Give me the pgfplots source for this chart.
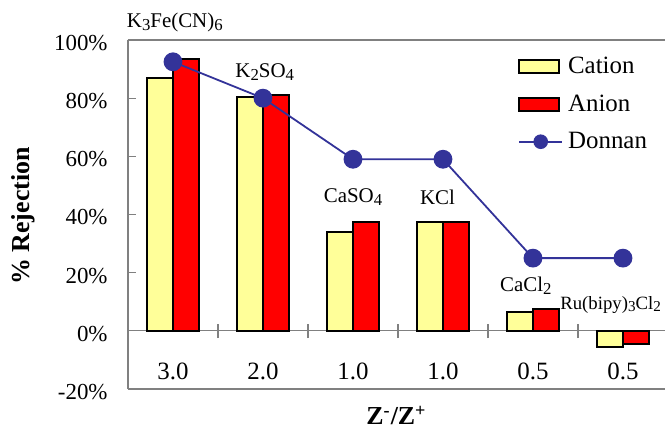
\documentclass[border=0pt]{standalone}
\usepackage{fontspec}
\setmainfont{Liberation Serif}
\usepackage{pgfplots}
\pgfplotsset{compat=1.18}
\definecolor{cat}{HTML}{FFFF99}
\definecolor{ani}{HTML}{FF0000}
\definecolor{don}{HTML}{333399}
\definecolor{axc}{HTML}{808080}
\newcommand{\sub}[1]{\raisebox{-0.3ex}{\fontsize{8.4}{9}\selectfont #1}}
\newcommand{\subs}[1]{\raisebox{-0.3ex}{\fontsize{7.6}{8}\selectfont #1}}
\pgfplotsset{
  barleg/.style={legend image code/.code={\draw[##1] (0bp,-3.25bp) rectangle (20bp,3.25bp);}},
  lineleg/.style={legend image code/.code={\draw[##1, mark size=3.2bp, mark repeat=2, mark phase=2] plot coordinates {(0bp,0bp) (10.75bp,0bp) (21.5bp,0bp)};}},
}
\begin{document}
\begin{tikzpicture}
\begin{axis}[
  width=268.5bp, height=174.5bp, scale only axis,
  xmin=-0.5, xmax=5.467, ymin=-20, ymax=100,
  axis x line*=bottom, axis y line*=left,
  axis line style={axc, line width=0.75bp},
  clip=false,
  xtick=\empty,
  ytick={-20,0,20,40,60,80,100},
  yticklabel={\pgfmathprintnumber{\tick}\%},
  /pgf/number format/assume math mode=true,
  tick align=inside, major tick length=4bp,
  tick style={axc, line width=0.6bp},
  yticklabel style={font=\fontsize{11.5}{13}\selectfont, xshift=-6.7bp, yshift=-1.5bp},
  legend style={at={(rel axis cs:0.715,0.975)}, anchor=north west, draw=none, fill=none,
    font=\fontsize{12.5}{14}\selectfont, row sep=5bp,
    nodes={inner xsep=2.5bp, inner ysep=2bp}},
  legend cell align=left,
]
\draw[axc, line width=0.75bp] (rel axis cs:0,1) -- (rel axis cs:1,1);
\draw[axc, line width=0.6bp] (axis cs:-0.5,0) -- (axis cs:5.467,0);
\draw[axc, line width=0.6bp] (axis cs:0.5,-2.5) -- (axis cs:0.5,2.5);
\draw[axc, line width=0.6bp] (axis cs:1.5,-2.5) -- (axis cs:1.5,2.5);
\draw[axc, line width=0.6bp] (axis cs:2.5,-2.5) -- (axis cs:2.5,2.5);
\draw[axc, line width=0.6bp] (axis cs:3.5,-2.5) -- (axis cs:3.5,2.5);
\draw[axc, line width=0.6bp] (axis cs:4.5,-2.5) -- (axis cs:4.5,2.5);

\addplot[ybar, bar width=0.29, bar shift=-0.145, fill=cat, draw=black, line width=0.9bp, barleg]
  coordinates {(0,87) (1,80.5) (2,34) (3,37.5) (4,6.5) (5,-5.5)};
\addlegendentry{Cation}
\addplot[ybar, bar width=0.29, bar shift=0.145, fill=ani, draw=black, line width=0.9bp, barleg]
  coordinates {(0,93.5) (1,81) (2,37.5) (3,37.5) (4,7.5) (5,-4.5)};
\addlegendentry{Anion}
\addplot[don, line width=0.9bp, mark=*, mark size=4.25bp, mark options={fill=don, draw=don}, lineleg]
  coordinates {(0,92.5) (1,80) (2,59) (3,59) (4,25) (5,25)};
\addlegendentry{Donnan}

\node[font=\fontsize{10.5}{12}\selectfont] at (axis cs:0.02,105.9) {K\sub{3}Fe(CN)\sub{6}};
\node[font=\fontsize{10.5}{12}\selectfont] at (axis cs:1.02,89) {K\sub{2}SO\sub{4}};
\node[font=\fontsize{10.5}{12}\selectfont] at (axis cs:2,46) {CaSO\sub{4}};
\node[font=\fontsize{10.5}{12}\selectfont] at (axis cs:2.94,46) {KCl};
\node[font=\fontsize{10.5}{12}\selectfont] at (axis cs:3.92,15.5) {CaCl\sub{2}};
\node[font=\fontsize{9.4}{11}\selectfont, anchor=west, inner xsep=0pt] at (axis cs:4.3,9) {Ru(bipy)\subs{3}Cl\subs{2}};

\node[font=\fontsize{12.5}{14}\selectfont] at (axis cs:0,-13.8) {3.0};
\node[font=\fontsize{12.5}{14}\selectfont] at (axis cs:1,-13.8) {2.0};
\node[font=\fontsize{12.5}{14}\selectfont] at (axis cs:2,-13.8) {1.0};
\node[font=\fontsize{12.5}{14}\selectfont] at (axis cs:3,-13.8) {1.0};
\node[font=\fontsize{12.5}{14}\selectfont] at (axis cs:4,-13.8) {0.5};
\node[font=\fontsize{12.5}{14}\selectfont] at (axis cs:5,-13.8) {0.5};

\coordinate (bl) at (rel axis cs:0,0);
\coordinate (tr) at (rel axis cs:1,1);
\node[font=\bfseries\fontsize{13}{15}\selectfont, anchor=base, inner sep=0pt] at ([yshift=-18bp]rel axis cs:0.5,0) {Z\textsuperscript{-}/Z\textsuperscript{+}};
\node[font=\bfseries\fontsize{13}{15}\selectfont, rotate=90] at ([xshift=-52.5bp]rel axis cs:0,0.496) {\% Rejection};
\end{axis}
\pgfresetboundingbox
\path ([shift={(-64bp,-21bp)}]bl) rectangle ([shift={(0bp,20bp)}]tr);
\end{tikzpicture}
\end{document}
